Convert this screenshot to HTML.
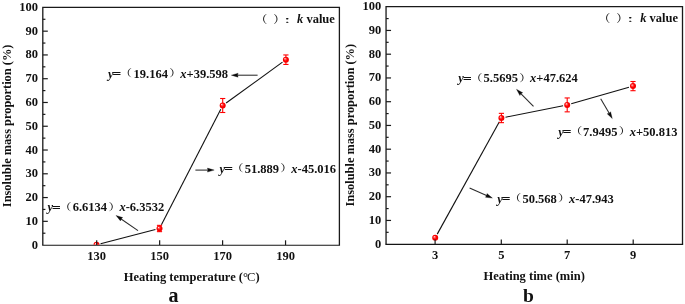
<!DOCTYPE html>
<html><head><meta charset="utf-8"><style>
html,body{margin:0;padding:0;background:#fff;}
svg{display:block;}
.t{font-family:'Liberation Serif', serif;font-weight:bold;font-size:12.5px;fill:#111;}
.i{font-style:italic;}
.cj{font-family:'Liberation Serif', 'Noto Serif CJK SC', serif;font-weight:600;fill:#222;}
.cjr{font-family:'Liberation Serif', 'Noto Serif CJK SC', serif;font-weight:normal;}
.cjb{font-family:'Liberation Serif', 'Noto Serif CJK SC', serif;font-weight:bold;font-size:12.5px;fill:#111;}
.big{font-family:'Liberation Serif', serif;font-weight:bold;fill:#111;}
</style></head><body>
<svg width="685" height="304" viewBox="0 0 685 304">
<defs><radialGradient id="rg" cx="0.5" cy="0.5" r="0.5" fx="0.32" fy="0.3"><stop offset="0" stop-color="#fff4f4"/><stop offset="0.28" stop-color="#ff5a5a"/><stop offset="0.6" stop-color="#ff0000"/><stop offset="1" stop-color="#f00000"/></radialGradient></defs>
<rect width="685" height="304" fill="#fff"/>
<clipPath id="c42"><rect x="42.8" y="7.4" width="296.60" height="237.30"/></clipPath>
<path d="M42.8,245.1 L42.8,7.4 L339.4,7.4 L339.4,245.1" fill="none" stroke="#1a1a1a" stroke-width="1.3"/>
<line x1="42.15" y1="245.25" x2="340.04999999999995" y2="245.25" stroke="#141414" stroke-width="1.1"/>
<text x="37.90" y="248.60" text-anchor="end" class="t tk">0</text>
<line x1="42.8" y1="233.22" x2="45.4" y2="233.22" stroke="#1a1a1a" stroke-width="1.2"/>
<line x1="42.8" y1="221.33" x2="47.8" y2="221.33" stroke="#1a1a1a" stroke-width="1.2"/>
<text x="37.90" y="224.83" text-anchor="end" class="t tk">10</text>
<line x1="42.8" y1="209.44" x2="45.4" y2="209.44" stroke="#1a1a1a" stroke-width="1.2"/>
<line x1="42.8" y1="197.56" x2="47.8" y2="197.56" stroke="#1a1a1a" stroke-width="1.2"/>
<text x="37.90" y="201.06" text-anchor="end" class="t tk">20</text>
<line x1="42.8" y1="185.68" x2="45.4" y2="185.68" stroke="#1a1a1a" stroke-width="1.2"/>
<line x1="42.8" y1="173.79" x2="47.8" y2="173.79" stroke="#1a1a1a" stroke-width="1.2"/>
<text x="37.90" y="177.29" text-anchor="end" class="t tk">30</text>
<line x1="42.8" y1="161.91" x2="45.4" y2="161.91" stroke="#1a1a1a" stroke-width="1.2"/>
<line x1="42.8" y1="150.02" x2="47.8" y2="150.02" stroke="#1a1a1a" stroke-width="1.2"/>
<text x="37.90" y="153.52" text-anchor="end" class="t tk">40</text>
<line x1="42.8" y1="138.13" x2="45.4" y2="138.13" stroke="#1a1a1a" stroke-width="1.2"/>
<line x1="42.8" y1="126.25" x2="47.8" y2="126.25" stroke="#1a1a1a" stroke-width="1.2"/>
<text x="37.90" y="129.75" text-anchor="end" class="t tk">50</text>
<line x1="42.8" y1="114.37" x2="45.4" y2="114.37" stroke="#1a1a1a" stroke-width="1.2"/>
<line x1="42.8" y1="102.48" x2="47.8" y2="102.48" stroke="#1a1a1a" stroke-width="1.2"/>
<text x="37.90" y="105.98" text-anchor="end" class="t tk">60</text>
<line x1="42.8" y1="90.59" x2="45.4" y2="90.59" stroke="#1a1a1a" stroke-width="1.2"/>
<line x1="42.8" y1="78.71" x2="47.8" y2="78.71" stroke="#1a1a1a" stroke-width="1.2"/>
<text x="37.90" y="82.21" text-anchor="end" class="t tk">70</text>
<line x1="42.8" y1="66.83" x2="45.4" y2="66.83" stroke="#1a1a1a" stroke-width="1.2"/>
<line x1="42.8" y1="54.94" x2="47.8" y2="54.94" stroke="#1a1a1a" stroke-width="1.2"/>
<text x="37.90" y="58.44" text-anchor="end" class="t tk">80</text>
<line x1="42.8" y1="43.06" x2="45.4" y2="43.06" stroke="#1a1a1a" stroke-width="1.2"/>
<line x1="42.8" y1="31.17" x2="47.8" y2="31.17" stroke="#1a1a1a" stroke-width="1.2"/>
<text x="37.90" y="34.67" text-anchor="end" class="t tk">90</text>
<line x1="42.8" y1="19.29" x2="45.4" y2="19.29" stroke="#1a1a1a" stroke-width="1.2"/>
<text x="37.90" y="10.90" text-anchor="end" class="t tk">100</text>
<text x="96.7" y="259.70" text-anchor="middle" class="t">130</text>
<text x="159.65" y="259.70" text-anchor="middle" class="t">150</text>
<text x="222.60000000000002" y="259.70" text-anchor="middle" class="t">170</text>
<text x="285.55" y="259.70" text-anchor="middle" class="t">190</text>
<line x1="100.57" y1="243.75" x2="155.43" y2="229.55" stroke="#111" stroke-width="1.1"/>
<line x1="161.42" y1="224.76" x2="220.78" y2="109.24" stroke="#111" stroke-width="1.1"/>
<line x1="226.10" y1="103.04" x2="282.50" y2="62.16" stroke="#111" stroke-width="1.1"/>
<circle cx="96.5" cy="244.8" r="3" fill="url(#rg)" clip-path="url(#c42)"/>
<g stroke="#ff0000" stroke-width="1.1"><line x1="159.5" y1="225.35" x2="159.5" y2="231.65"/><line x1="156.9" y1="225.35" x2="162.1" y2="225.35"/><line x1="156.9" y1="231.65" x2="162.1" y2="231.65"/></g>
<circle cx="159.5" cy="228.5" r="3" fill="url(#rg)" clip-path="url(#c42)"/>
<g stroke="#ff0000" stroke-width="1.1"><line x1="222.7" y1="98.5" x2="222.7" y2="112.5"/><line x1="220.1" y1="98.5" x2="225.3" y2="98.5"/><line x1="220.1" y1="112.5" x2="225.3" y2="112.5"/></g>
<circle cx="222.7" cy="105.5" r="3" fill="url(#rg)" clip-path="url(#c42)"/>
<g stroke="#ff0000" stroke-width="1.1"><line x1="285.9" y1="54.95" x2="285.9" y2="64.45"/><line x1="283.3" y1="54.95" x2="288.5" y2="54.95"/><line x1="283.3" y1="64.45" x2="288.5" y2="64.45"/></g>
<circle cx="285.9" cy="59.7" r="3" fill="url(#rg)" clip-path="url(#c42)"/>
<line x1="96.7" y1="245.1" x2="96.7" y2="240.29999999999998" stroke="#1a1a1a" stroke-width="1.2"/>
<line x1="159.65" y1="245.1" x2="159.65" y2="240.29999999999998" stroke="#1a1a1a" stroke-width="1.2"/>
<line x1="222.60000000000002" y1="245.1" x2="222.60000000000002" y2="240.29999999999998" stroke="#1a1a1a" stroke-width="1.2"/>
<line x1="285.55" y1="245.1" x2="285.55" y2="240.29999999999998" stroke="#1a1a1a" stroke-width="1.2"/>
<text x="191.7" y="280.60" text-anchor="middle" class="t">Heating temperature (°<tspan dx="-1" style="font-weight:normal">C</tspan>)</text>
<text x="173.6" y="302.2" text-anchor="middle" class="big" style="font-size:20px">a</text>
<text transform="translate(11.10,125.9) rotate(-90)" text-anchor="middle" class="t" style="font-size:12.4px">Insoluble mass proportion (%)</text>
<text x="107.95" y="78.00" class="t i">y</text>
<text transform="translate(112.30,78.30) scale(1.28,1)" class="t">=</text>
<text transform="translate(119.73,77.40) scale(1.25,1)" class="cj" style="font-size:9.8px">（</text>
<text x="133.50" y="78.00" class="t">19.164</text>
<text transform="translate(169.37,77.40) scale(1.25,1)" class="cj" style="font-size:9.8px">）</text>
<text x="180.29" y="78.00" class="t"><tspan class="i">x</tspan>+39.598</text>
<line x1="257.6" y1="75.2" x2="237.10" y2="75.20" stroke="#2a2a2a" stroke-width="1.05"/>
<polygon points="231.3,75.2 238.10,73.20 237.50,75.20 238.10,77.20" fill="#0a0a0a" stroke="#0a0a0a" stroke-width="0.3" stroke-linejoin="round"/>
<text x="219.55" y="172.60" class="t i">y</text>
<text transform="translate(223.90,172.90) scale(1.28,1)" class="t">=</text>
<text transform="translate(231.33,172.00) scale(1.25,1)" class="cj" style="font-size:9.8px">（</text>
<text x="244.70" y="172.60" class="t">51.889</text>
<text transform="translate(280.35,172.00) scale(1.25,1)" class="cj" style="font-size:9.8px">）</text>
<text x="291.27" y="172.60" class="t"><tspan class="i">x</tspan>-45.016</text>
<line x1="195.4" y1="170.1" x2="208.40" y2="170.10" stroke="#2a2a2a" stroke-width="1.05"/>
<polygon points="214.2,170.1 207.40,172.10 208.00,170.10 207.40,168.10" fill="#0a0a0a" stroke="#0a0a0a" stroke-width="0.3" stroke-linejoin="round"/>
<text x="47.45" y="211.30" class="t i">y</text>
<text transform="translate(51.80,211.60) scale(1.28,1)" class="t">=</text>
<text transform="translate(59.23,210.70) scale(1.25,1)" class="cj" style="font-size:9.8px">（</text>
<text x="72.67" y="211.30" class="t">6.6134</text>
<text transform="translate(108.54,210.70) scale(1.25,1)" class="cj" style="font-size:9.8px">）</text>
<text x="119.46" y="211.30" class="t"><tspan class="i">x</tspan>-6.3532</text>
<line x1="138.0" y1="230.6" x2="120.77" y2="218.70" stroke="#2a2a2a" stroke-width="1.05"/>
<polygon points="116.0,215.4 122.73,217.62 121.10,218.92 120.46,220.91" fill="#0a0a0a" stroke="#0a0a0a" stroke-width="0.3" stroke-linejoin="round"/>
<text transform="translate(255.14,22.70) scale(1.15,1)" class="cj" style="font-size:10.5px">（</text>
<text transform="translate(273.24,22.70) scale(1.15,1)" class="cj" style="font-size:10.5px">）</text>
<text transform="translate(283.21,22.70) scale(1.2,0.63)" class="cjb">：</text>
<text x="297.03" y="22.70" class="t"><tspan class="i">k</tspan> value</text>
<clipPath id="c386"><rect x="386.05" y="6.7" width="296.45" height="237.10"/></clipPath>
<path d="M386.05,244.2 L386.05,6.7 L682.5,6.7 L682.5,244.2" fill="none" stroke="#1a1a1a" stroke-width="1.3"/>
<line x1="385.40000000000003" y1="244.35" x2="683.15" y2="244.35" stroke="#141414" stroke-width="1.1"/>
<text x="381.15" y="247.70" text-anchor="end" class="t tk">0</text>
<line x1="386.05" y1="232.32" x2="388.65000000000003" y2="232.32" stroke="#1a1a1a" stroke-width="1.2"/>
<line x1="386.05" y1="220.45" x2="391.05" y2="220.45" stroke="#1a1a1a" stroke-width="1.2"/>
<text x="381.15" y="223.95" text-anchor="end" class="t tk">10</text>
<line x1="386.05" y1="208.57" x2="388.65000000000003" y2="208.57" stroke="#1a1a1a" stroke-width="1.2"/>
<line x1="386.05" y1="196.70" x2="391.05" y2="196.70" stroke="#1a1a1a" stroke-width="1.2"/>
<text x="381.15" y="200.20" text-anchor="end" class="t tk">20</text>
<line x1="386.05" y1="184.82" x2="388.65000000000003" y2="184.82" stroke="#1a1a1a" stroke-width="1.2"/>
<line x1="386.05" y1="172.95" x2="391.05" y2="172.95" stroke="#1a1a1a" stroke-width="1.2"/>
<text x="381.15" y="176.45" text-anchor="end" class="t tk">30</text>
<line x1="386.05" y1="161.07" x2="388.65000000000003" y2="161.07" stroke="#1a1a1a" stroke-width="1.2"/>
<line x1="386.05" y1="149.20" x2="391.05" y2="149.20" stroke="#1a1a1a" stroke-width="1.2"/>
<text x="381.15" y="152.70" text-anchor="end" class="t tk">40</text>
<line x1="386.05" y1="137.32" x2="388.65000000000003" y2="137.32" stroke="#1a1a1a" stroke-width="1.2"/>
<line x1="386.05" y1="125.45" x2="391.05" y2="125.45" stroke="#1a1a1a" stroke-width="1.2"/>
<text x="381.15" y="128.95" text-anchor="end" class="t tk">50</text>
<line x1="386.05" y1="113.57" x2="388.65000000000003" y2="113.57" stroke="#1a1a1a" stroke-width="1.2"/>
<line x1="386.05" y1="101.70" x2="391.05" y2="101.70" stroke="#1a1a1a" stroke-width="1.2"/>
<text x="381.15" y="105.20" text-anchor="end" class="t tk">60</text>
<line x1="386.05" y1="89.82" x2="388.65000000000003" y2="89.82" stroke="#1a1a1a" stroke-width="1.2"/>
<line x1="386.05" y1="77.95" x2="391.05" y2="77.95" stroke="#1a1a1a" stroke-width="1.2"/>
<text x="381.15" y="81.45" text-anchor="end" class="t tk">70</text>
<line x1="386.05" y1="66.07" x2="388.65000000000003" y2="66.07" stroke="#1a1a1a" stroke-width="1.2"/>
<line x1="386.05" y1="54.20" x2="391.05" y2="54.20" stroke="#1a1a1a" stroke-width="1.2"/>
<text x="381.15" y="57.70" text-anchor="end" class="t tk">80</text>
<line x1="386.05" y1="42.32" x2="388.65000000000003" y2="42.32" stroke="#1a1a1a" stroke-width="1.2"/>
<line x1="386.05" y1="30.45" x2="391.05" y2="30.45" stroke="#1a1a1a" stroke-width="1.2"/>
<text x="381.15" y="33.95" text-anchor="end" class="t tk">90</text>
<line x1="386.05" y1="18.57" x2="388.65000000000003" y2="18.57" stroke="#1a1a1a" stroke-width="1.2"/>
<text x="381.15" y="10.20" text-anchor="end" class="t tk">100</text>
<text x="435.1" y="258.80" text-anchor="middle" class="t">3</text>
<text x="501.3" y="258.80" text-anchor="middle" class="t">5</text>
<text x="567.2" y="258.80" text-anchor="middle" class="t">7</text>
<text x="633.2" y="258.80" text-anchor="middle" class="t">9</text>
<line x1="437.23" y1="234.12" x2="499.37" y2="121.68" stroke="#111" stroke-width="1.1"/>
<line x1="505.52" y1="117.18" x2="563.08" y2="105.72" stroke="#111" stroke-width="1.1"/>
<line x1="571.24" y1="103.75" x2="628.96" y2="87.25" stroke="#111" stroke-width="1.1"/>
<circle cx="435.2" cy="237.8" r="3" fill="url(#rg)" clip-path="url(#c386)"/>
<g stroke="#ff0000" stroke-width="1.1"><line x1="501.4" y1="113.35" x2="501.4" y2="122.65"/><line x1="498.8" y1="113.35" x2="504.0" y2="113.35"/><line x1="498.8" y1="122.65" x2="504.0" y2="122.65"/></g>
<circle cx="501.4" cy="118.0" r="3" fill="url(#rg)" clip-path="url(#c386)"/>
<g stroke="#ff0000" stroke-width="1.1"><line x1="567.2" y1="97.95" x2="567.2" y2="111.85000000000001"/><line x1="564.6" y1="97.95" x2="569.8" y2="97.95"/><line x1="564.6" y1="111.85000000000001" x2="569.8" y2="111.85000000000001"/></g>
<circle cx="567.2" cy="104.9" r="3" fill="url(#rg)" clip-path="url(#c386)"/>
<g stroke="#ff0000" stroke-width="1.1"><line x1="633.0" y1="81.5" x2="633.0" y2="90.69999999999999"/><line x1="630.4" y1="81.5" x2="635.6" y2="81.5"/><line x1="630.4" y1="90.69999999999999" x2="635.6" y2="90.69999999999999"/></g>
<circle cx="633.0" cy="86.1" r="3" fill="url(#rg)" clip-path="url(#c386)"/>
<line x1="435.1" y1="244.2" x2="435.1" y2="239.39999999999998" stroke="#1a1a1a" stroke-width="1.2"/>
<line x1="501.3" y1="244.2" x2="501.3" y2="239.39999999999998" stroke="#1a1a1a" stroke-width="1.2"/>
<line x1="567.2" y1="244.2" x2="567.2" y2="239.39999999999998" stroke="#1a1a1a" stroke-width="1.2"/>
<line x1="633.2" y1="244.2" x2="633.2" y2="239.39999999999998" stroke="#1a1a1a" stroke-width="1.2"/>
<text x="534.2" y="279.70" text-anchor="middle" class="t">Heating time (min)</text>
<text x="528.4" y="302" text-anchor="middle" class="big" style="font-size:19.5px">b</text>
<text transform="translate(354.35,125.2) rotate(-90)" text-anchor="middle" class="t" style="font-size:12.4px">Insoluble mass proportion (%)</text>
<text x="458.35" y="82.30" class="t i">y</text>
<text transform="translate(462.70,82.60) scale(1.28,1)" class="t">=</text>
<text transform="translate(470.13,81.70) scale(1.25,1)" class="cj" style="font-size:9.8px">（</text>
<text x="483.50" y="82.30" class="t">5.5695</text>
<text transform="translate(519.14,81.70) scale(1.25,1)" class="cj" style="font-size:9.8px">）</text>
<text x="530.06" y="82.30" class="t"><tspan class="i">x</tspan>+47.624</text>
<line x1="533.5" y1="106.4" x2="520.59" y2="93.41" stroke="#2a2a2a" stroke-width="1.05"/>
<polygon points="516.5,89.3 522.71,92.71 520.87,93.70 519.88,95.53" fill="#0a0a0a" stroke="#0a0a0a" stroke-width="0.3" stroke-linejoin="round"/>
<text x="558.15" y="135.60" class="t i">y</text>
<text transform="translate(562.50,135.90) scale(1.28,1)" class="t">=</text>
<text transform="translate(569.93,135.00) scale(1.25,1)" class="cj" style="font-size:9.8px">（</text>
<text x="583.09" y="135.60" class="t">7.9495</text>
<text transform="translate(618.73,135.00) scale(1.25,1)" class="cj" style="font-size:9.8px">）</text>
<text x="629.65" y="135.60" class="t"><tspan class="i">x</tspan>+50.813</text>
<line x1="600.7" y1="98.8" x2="609.37" y2="113.60" stroke="#2a2a2a" stroke-width="1.05"/>
<polygon points="612.3,118.6 607.14,113.74 609.17,113.25 610.59,111.72" fill="#0a0a0a" stroke="#0a0a0a" stroke-width="0.3" stroke-linejoin="round"/>
<text x="497.25" y="202.90" class="t i">y</text>
<text transform="translate(501.60,203.20) scale(1.28,1)" class="t">=</text>
<text transform="translate(509.03,202.30) scale(1.25,1)" class="cj" style="font-size:9.8px">（</text>
<text x="522.40" y="202.90" class="t">50.568</text>
<text transform="translate(558.09,202.30) scale(1.25,1)" class="cj" style="font-size:9.8px">）</text>
<text x="569.01" y="202.90" class="t"><tspan class="i">x</tspan>-47.943</text>
<line x1="469.6" y1="188.1" x2="487.09" y2="195.77" stroke="#2a2a2a" stroke-width="1.05"/>
<polygon points="492.4,198.1 485.37,197.20 486.72,195.61 486.98,193.54" fill="#0a0a0a" stroke="#0a0a0a" stroke-width="0.3" stroke-linejoin="round"/>
<text transform="translate(598.14,22.30) scale(1.15,1)" class="cj" style="font-size:10.5px">（</text>
<text transform="translate(616.24,22.30) scale(1.15,1)" class="cj" style="font-size:10.5px">）</text>
<text transform="translate(626.22,22.30) scale(1.2,0.63)" class="cjb">：</text>
<text x="640.13" y="22.30" class="t"><tspan class="i">k</tspan> value</text>
</svg>
</body></html>
